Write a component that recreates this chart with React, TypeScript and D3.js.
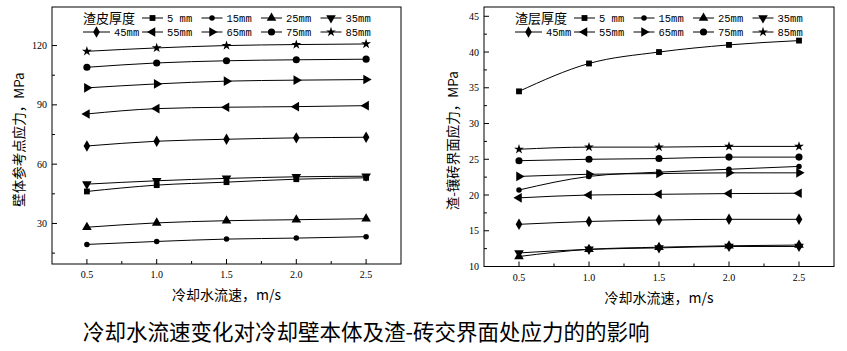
import React from 'react';
import * as d3 from 'd3';

const speeds = [0.5, 1.0, 1.5, 2.0, 2.5];
const thicknessLabels = ['5 mm', '15mm', '25mm', '35mm', '45mm', '55mm', '65mm', '75mm', '85mm'];

// Left: wall reference point stress (MPa)
const wall5 = [46.2, 49.4, 50.9, 52.4, 53.1];
const wall15 = [19.4, 20.9, 22.1, 22.6, 23.3];
const wall25 = [28.1, 30.3, 31.4, 31.9, 32.4];
const wall35 = [49.9, 51.6, 52.8, 53.6, 53.9];
const wall45 = [69.2, 71.6, 72.6, 73.3, 73.6];
const wall55 = [85.4, 88.1, 88.8, 89.1, 89.6];
const wall65 = [98.6, 100.6, 102.0, 102.5, 102.8];
const wall75 = [109.0, 111.2, 112.3, 112.8, 113.1];
const wall85 = [117.1, 118.8, 120.0, 120.5, 120.8];

// Right: slag-brick interface stress (MPa)
const slag5 = [34.5, 38.4, 40.0, 41.0, 41.6];
const slag15 = [20.7, 22.6, 23.2, 23.6, 24.0];
const slag25 = [11.4, 12.4, 12.7, 12.9, 13.0];
const slag35 = [11.9, 12.4, 12.6, 12.8, 12.8];
const slag45 = [15.9, 16.3, 16.5, 16.6, 16.6];
const slag55 = [19.6, 20.0, 20.1, 20.2, 20.25];
const slag65 = [22.6, 22.9, 23.0, 23.1, 23.1];
const slag75 = [24.8, 25.0, 25.1, 25.3, 25.3];
const slag85 = [26.4, 26.7, 26.7, 26.8, 26.8];

const xTicks = [0.5, 1.0, 1.5, 2.0, 2.5];
const xMinor = [0.75, 1.25, 1.75, 2.25];
const leftYTicks = [30, 60, 90, 120];
const leftYMinor = [15, 45, 75, 105];
const rightYTicks = [10, 15, 20, 25, 30, 35, 40, 45];
const rightYMinor = [12.5, 17.5, 22.5, 27.5, 32.5, 37.5, 42.5];

const wallSeries = [wall5, wall15, wall25, wall35, wall45, wall55, wall65, wall75, wall85];
const slagSeries = [slag5, slag15, slag25, slag35, slag45, slag55, slag65, slag75, slag85];

type MarkerKind = 'square' | 'smallCircle' | 'up' | 'down' | 'diamond' | 'left' | 'right' | 'circle' | 'star';
const markerKinds: MarkerKind[] = ['square', 'smallCircle', 'up', 'down', 'diamond', 'left', 'right', 'circle', 'star'];

function Marker({ kind, x, y }: { kind: MarkerKind; x: number; y: number }) {
  let type: d3.SymbolType = d3.symbolSquare;
  let size = 36;
  let rot = 0;
  switch (kind) {
    case 'square': type = d3.symbolSquare; size = 34; break;
    case 'smallCircle': type = d3.symbolCircle; size = 24; break;
    case 'up': type = d3.symbolTriangle; size = 40; break;
    case 'down': type = d3.symbolTriangle; size = 40; rot = 180; break;
    case 'diamond': type = d3.symbolDiamond; size = 38; break;
    case 'left': type = d3.symbolTriangle; size = 40; rot = -90; break;
    case 'right': type = d3.symbolTriangle; size = 40; rot = 90; break;
    case 'circle': type = d3.symbolCircle; size = 40; break;
    case 'star': type = d3.symbolStar; size = 30; break;
  }
  const d = d3.symbol().type(type).size(size)()!;
  return <path d={d} transform={`translate(${x},${y}) rotate(${rot})`} fill="#000" />;
}

interface ChartProps {
  x0: number; x1: number; y0: number; y1: number;
  yDomain: [number, number];
  series: number[][];
  yTicks: number[]; yMinor: number[];
  yTickFmt: (v: number) => string;
  legendTitle: string;
  yLabel: string;
  yLabelX: number;
}

function Chart(p: ChartProps) {
  const xs = d3.scaleLinear().domain([0.25, 2.75]).range([p.x0, p.x1]);
  const ys = d3.scaleLinear().domain(p.yDomain).range([p.y1, p.y0]);
  const line = d3.line<number>()
    .x((_, i) => xs(speeds[i]))
    .y(v => ys(v))
    .curve(d3.curveMonotoneX);
  const tickFont = '"Liberation Serif", "DejaVu Serif", serif';
  const lx = p.x0 + 31;
  const colW = 59.5;
  const row1 = 18;
  const row2 = 32;
  const legendPos = (i: number) => {
    if (i < 4) return { x: lx + 59 + i * colW, y: row1 };
    if (i === 4) return { x: lx, y: row2 };
    return { x: lx + 59 + (i - 5) * colW, y: row2 };
  };
  const yMid = (p.y0 + p.y1) / 2 + 4;
  return (
    <g>
      <rect x={p.x0} y={p.y0} width={p.x1 - p.x0} height={p.y1 - p.y0} fill="none" stroke="#000" strokeWidth={1} />
      {xTicks.map(t => (
        <g key={'xt' + t}>
          <line x1={xs(t)} x2={xs(t)} y1={p.y1} y2={p.y1 - 5} stroke="#000" />
          <text x={xs(t)} y={p.y1 + 14} textAnchor="middle" fontSize={10} fontFamily={tickFont} fill="#000">{t.toFixed(1)}</text>
        </g>
      ))}
      {xMinor.map(t => (
        <line key={'xm' + t} x1={xs(t)} x2={xs(t)} y1={p.y1} y2={p.y1 - 3} stroke="#000" />
      ))}
      {p.yTicks.map(t => (
        <g key={'yt' + t}>
          <line x1={p.x0} x2={p.x0 + 5} y1={ys(t)} y2={ys(t)} stroke="#000" />
          <text x={p.x0 - 5} y={ys(t) + 3.5} textAnchor="end" fontSize={10} fontFamily={tickFont} fill="#000">{p.yTickFmt(t)}</text>
        </g>
      ))}
      {p.yMinor.map(t => (
        <line key={'ym' + t} x1={p.x0} x2={p.x0 + 3} y1={ys(t)} y2={ys(t)} stroke="#000" />
      ))}
      {p.series.map((s, si) => (
        <g key={'s' + si}>
          <path d={line(s)!} fill="none" stroke="#000" strokeWidth={1} />
          {s.map((v, i) => (
            <Marker key={i} kind={markerKinds[si]} x={xs(speeds[i])} y={ys(v)} />
          ))}
        </g>
      ))}
      <text x={lx} y={row1 + 5} fontSize={13} fontFamily='"Noto Sans CJK SC", sans-serif' fill="#000">{p.legendTitle}</text>
      {thicknessLabels.map((lab, i) => {
        const pos = legendPos(i);
        const w = i === 4 ? 27 : 21;
        return (
          <g key={'lg' + i}>
            <line x1={pos.x} x2={pos.x + w} y1={pos.y} y2={pos.y} stroke="#000" />
            <Marker kind={markerKinds[i]} x={pos.x + w / 2} y={pos.y} />
            <text x={pos.x + w + 4} y={pos.y + 4} fontSize={10.5} fontFamily='"Liberation Mono", "DejaVu Sans Mono", monospace' fill="#000">{lab}</text>
          </g>
        );
      })}
      <text x={(p.x0 + p.x1) / 2} y={p.y1 + 36} textAnchor="middle" fontSize={14} fontFamily='"Noto Sans CJK SC", sans-serif' fill="#000">冷却水流速，m/s</text>
      <text transform={`translate(${p.yLabelX},${yMid}) rotate(-90)`} textAnchor="middle" fontSize={13.5} fontFamily='"Noto Sans CJK SC", sans-serif' fill="#000">{p.yLabel}</text>
    </g>
  );
}

export default function App() {
  return (
    <svg width={847} height={351} style={{ position: 'absolute', left: 0, top: 0, background: '#fff' }}>
      <rect x={0} y={0} width={847} height={351} fill="#fff" />
      <Chart x0={52} x1={401} y0={7} y1={264} yDomain={[9.5, 139.5]} series={wallSeries}
        yTicks={leftYTicks} yMinor={leftYMinor} yTickFmt={v => String(v)}
        legendTitle="渣皮厚度" yLabel="壁体参考点应力，MPa" yLabelX={24} />
      <Chart x0={484} x1={834} y0={7} y1={266.5} yDomain={[10, 46.3]} series={slagSeries}
        yTicks={rightYTicks} yMinor={rightYMinor} yTickFmt={v => String(v)}
        legendTitle="渣层厚度" yLabel="渣-镶砖界面应力，MPa" yLabelX={458} />
      <text x={83} y={340} fontSize={21.5} fontFamily='"Noto Sans CJK SC", sans-serif' fill="#000">冷却水流速变化对冷却壁本体及渣-砖交界面处应力的的影响</text>
    </svg>
  );
}
